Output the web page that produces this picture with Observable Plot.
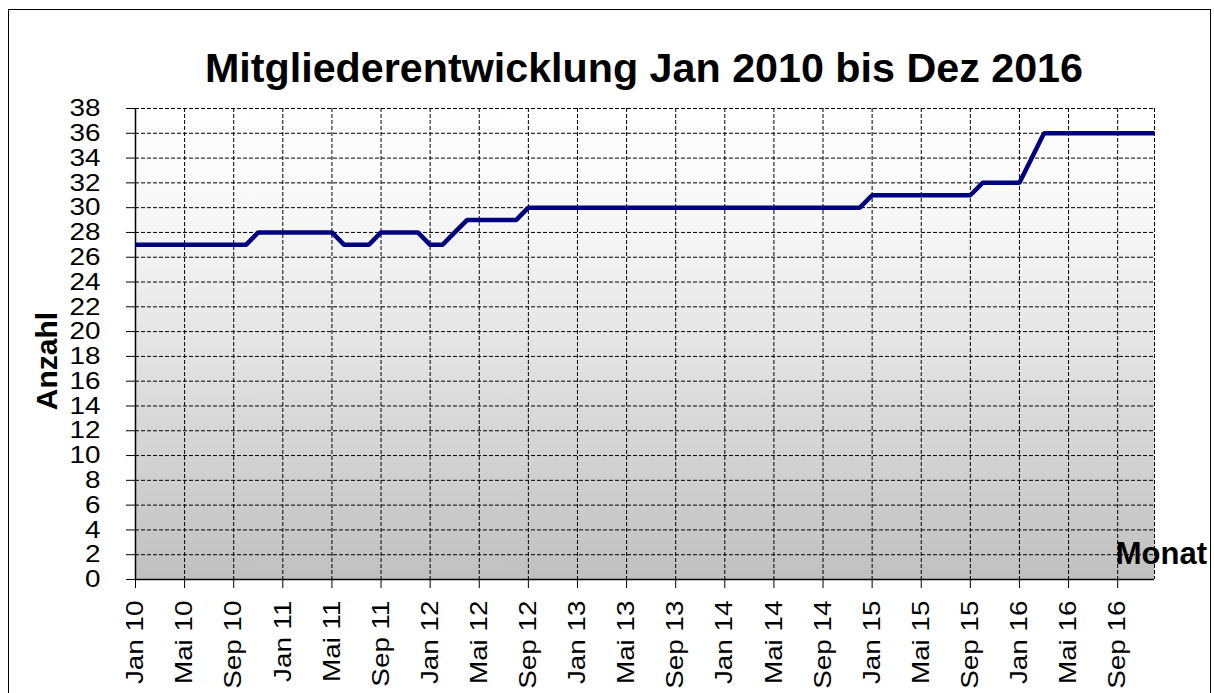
<!DOCTYPE html>
<html>
<head>
<meta charset="utf-8">
<script src="https://cdn.jsdelivr.net/npm/d3@7"></script>
<script src="https://cdn.jsdelivr.net/npm/@observablehq/plot@0.6"></script>
<style>
  html, body { margin: 0; padding: 0; background: #fff; width: 1214px; height: 693px; overflow: hidden; }
  #border { position: absolute; left: 8px; top: 9px; width: 1203px; height: 720px; border: 1.5px solid #000; box-sizing: border-box; }
  #chart { position: absolute; left: 0; top: 0; }
</style>
</head>
<body>
<div id="border"></div>
<div id="chart"></div>
<script>
// Monthly member counts, Jan 2010 .. Dez 2016 (84 months)
const members = [
  27,27,27,27,27,27,27,27,27,27,28,28,   // 2010
  28,28,28,28,28,27,27,27,28,28,28,28,   // 2011
  27,27,28,29,29,29,29,29,30,30,30,30,   // 2012
  30,30,30,30,30,30,30,30,30,30,30,30,   // 2013
  30,30,30,30,30,30,30,30,30,30,30,30,   // 2014
  31,31,31,31,31,31,31,31,31,32,32,32,   // 2015
  32,34,36,36,36,36,36,36,36,36,36,36    // 2016
];
const monthNames = ["Jan","Feb","Mär","Apr","Mai","Jun","Jul","Aug","Sep","Okt","Nov","Dez"];
const xTickLabels = ["Jan 10","Mai 10","Sep 10","Jan 11","Mai 11","Sep 11","Jan 12","Mai 12","Sep 12",
  "Jan 13","Mai 13","Sep 13","Jan 14","Mai 14","Sep 14","Jan 15","Mai 15","Sep 15","Jan 16","Mai 16","Sep 16"];
const yTicks = [0,2,4,6,8,10,12,14,16,18,20,22,24,26,28,30,32,34,36,38];
const titleText = "Mitgliederentwicklung Jan 2010 bis Dez 2016";
const yLabel = "Anzahl";
const xLabel = "Monat";

// month index of each tick label
const xTickIdx = xTickLabels.map(l => {
  const [m, y] = l.split(" ");
  return (2000 + (+y) - 2010) * 12 + monthNames.indexOf(m);
});
const labelByIdx = new Map(xTickIdx.map((i, k) => [i, xTickLabels[k]]));
const data = members.map((v, i) => ({i, v}));
const lastIdx = members.length - 1;

const dash = "4,2";
const plot = Plot.plot({
  width: 1214,
  height: 693,
  marginLeft: 135,
  marginRight: 60,
  marginTop: 108,
  marginBottom: 114,
  style: {fontFamily: "'Liberation Sans', Arial, sans-serif", fontSize: "24px", background: "transparent", color: "#000", overflow: "visible"},
  x: {domain: [0, lastIdx], label: null},
  y: {domain: [0, 38], label: null},
  marks: [
    Plot.frame({fill: "url(#bgGrad)", stroke: "none", className: "bgframe"}),
    Plot.gridY(yTicks, {stroke: "#000", strokeOpacity: 1, strokeWidth: 1, strokeDasharray: dash}),
    Plot.gridX(xTickIdx, {stroke: "#000", strokeOpacity: 1, strokeWidth: 1, strokeDasharray: dash}),
    Plot.ruleX([lastIdx], {stroke: "#000", strokeWidth: 1, strokeDasharray: dash}),
    Plot.ruleY([38], {stroke: "#000", strokeWidth: 1, strokeDasharray: dash}),
    Plot.ruleY([0], {stroke: "#000", strokeWidth: 1.5}),
    Plot.ruleX([0], {stroke: "#000", strokeWidth: 1.5}),
    Plot.axisY({ticks: yTicks, tickSize: 9, tickPadding: 26, fontSize: 24, label: null, className: "yax"}),
    Plot.axisX({ticks: xTickIdx, tickFormat: d => labelByIdx.get(d), tickSize: 9, tickPadding: 12, tickRotate: -90, fontSize: 24, label: null, className: "xax"}),
    Plot.line(data, {x: "i", y: "v", stroke: "#000080", strokeWidth: 4.5, strokeLinejoin: "miter", strokeLinecap: "butt"})
  ]
});

document.getElementById("chart").appendChild(plot);
const svg = d3.select(plot);

// gradient background
const defs = svg.insert("defs", ":first-child");
const grad = defs.append("linearGradient").attr("id", "bgGrad").attr("x1", 0).attr("y1", 0).attr("x2", 0).attr("y2", 1);
grad.append("stop").attr("offset", "0%").attr("stop-color", "#ffffff");
grad.append("stop").attr("offset", "25%").attr("stop-color", "#f6f6f6");
grad.append("stop").attr("offset", "100%").attr("stop-color", "#c0c0c0");
svg.selectAll("[aria-label='frame']").attr("fill", "url(#bgGrad)");

// stretched tick labels
svg.selectAll("[aria-label='y-axis tick label'] text, [aria-label='x-axis tick label'] text").each(function() {
  const len = this.getComputedTextLength();
  this.setAttribute("textLength", len * 1.16);
  this.setAttribute("lengthAdjust", "spacingAndGlyphs");
});

// title
svg.append("text")
  .attr("x", 644).attr("y", 82)
  .attr("text-anchor", "middle")
  .attr("font-weight", "bold")
  .attr("font-size", 40)
  .attr("fill", "#000")
  .attr("textLength", 878)
  .attr("lengthAdjust", "spacingAndGlyphs")
  .text(titleText);

// y label
svg.append("text")
  .attr("transform", "translate(57,361) rotate(-90)")
  .attr("text-anchor", "middle")
  .attr("font-weight", "bold")
  .attr("font-size", 30)
  .attr("fill", "#000")
  .text(yLabel);

// x label
svg.append("text")
  .attr("x", 1207).attr("y", 564)
  .attr("text-anchor", "end")
  .attr("font-weight", "bold")
  .attr("font-size", 31)
  .attr("fill", "#000")
  .text(xLabel);
</script>
</body>
</html>
